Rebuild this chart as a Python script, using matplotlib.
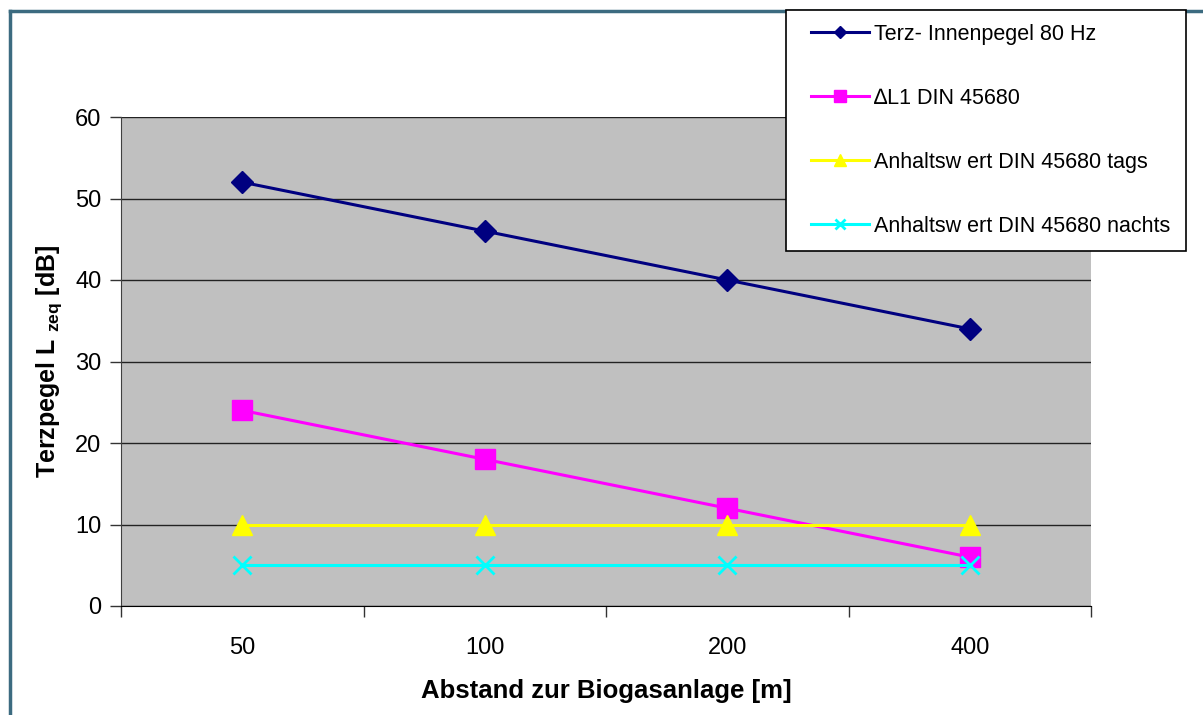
import matplotlib.pyplot as plt
from matplotlib.lines import Line2D
from matplotlib.patches import Rectangle

plt.rcParams['font.family'] = ['Liberation Sans', 'DejaVu Sans']
plt.rcParams['mathtext.fontset'] = 'custom'
plt.rcParams['mathtext.rm'] = 'Liberation Sans'
plt.rcParams['mathtext.bf'] = 'Liberation Sans:bold'

# Abstand zur Anlage und Pegelwerte
abstand = ['50', '100', '200', '400']
innenpegel = [52, 46, 40, 34]
delta_l1 = [24, 18, 12, 6]
anhalt_tags = [10, 10, 10, 10]
anhalt_nachts = [5, 5, 5, 5]

namen = ['Terz- Innenpegel 80 Hz', '\u2206L1 DIN 45680',
         'Anhaltsw ert DIN 45680 tags', 'Anhaltsw ert DIN 45680 nachts']

W, H = 1203, 715
fig = plt.figure(figsize=(W / 100, H / 100), dpi=100)
ax = fig.add_axes([121 / W, (H - 606) / H, 970 / W, 489 / H])
ax.set_facecolor('#c0c0c0')

x = range(len(abstand))
ax.plot(x, innenpegel, color='#000080', lw=2.2, marker='D', ms=11, label=namen[0], zorder=3)
ax.plot(x, delta_l1, color='#ff00ff', lw=2.2, marker='s', ms=14, label=namen[1], zorder=3)
ax.plot(x, anhalt_tags, color='#ffff00', lw=2.2, marker='^', ms=14, label=namen[2], zorder=3)
ax.plot(x, anhalt_nachts, color='#00ffff', lw=2.2, marker='x', ms=13, mew=2,
        label=namen[3], zorder=3)

ax.set_xlim(-0.5, len(abstand) - 0.5)
ax.set_ylim(0, 60)
ax.set_yticks(range(0, 61, 10))
ax.yaxis.grid(True, color='#222222', lw=1)
ax.set_axisbelow(True)

# Kategorieachse: Striche zwischen den Kategorien, Beschriftung in der Mitte
ax.set_xticks([i - 0.5 for i in range(len(abstand) + 1)])
ax.set_xticklabels([])
ax.set_xticks(list(x), minor=True)
ax.set_xticklabels(abstand, minor=True)
ax.tick_params(axis='x', which='major', length=8, width=1, color='#333333')
ax.tick_params(axis='x', which='minor', length=0, pad=22, labelsize=17)
ax.tick_params(axis='y', length=8, width=1, color='#333333', labelsize=17, pad=6)

for s in ['top', 'right']:
    ax.spines[s].set_visible(False)
ax.spines['left'].set_color('#404040')
ax.spines['bottom'].set_color('#000000')

ax.set_xlabel('Abstand zur Biogasanlage [m]', fontsize=18.5, fontweight='bold', labelpad=15)
ax.set_ylabel(r'Terzpegel L $_{\mathbf{zeq}}$ [dB]', fontsize=18, fontweight='bold', labelpad=8)

# Legendenkasten oben rechts
fig.patches.append(Rectangle((786 / W, 1 - 251 / H), 400 / W, 241 / H,
                             transform=fig.transFigure, facecolor='white',
                             edgecolor='black', lw=1.2, zorder=5))
leg = fig.legend(loc='upper left', bbox_to_anchor=(802 / W, 1 - 15 / H),
                 frameon=False, fontsize=15.5, labelspacing=2.0, handlelength=2.7,
                 handletextpad=0.25, markerscale=0.6, borderaxespad=0)
leg.set_zorder(6)

# Rahmen links und oben
fig.add_artist(Line2D([10 / W, 10 / W], [0, 1 - 11 / H], transform=fig.transFigure,
                      color='#3c6b80', lw=2.5))
fig.add_artist(Line2D([10 / W, 1], [1 - 11 / H, 1 - 11 / H], transform=fig.transFigure,
                      color='#3c6b80', lw=2.5))

fig.savefig('out.png', dpi=100)
